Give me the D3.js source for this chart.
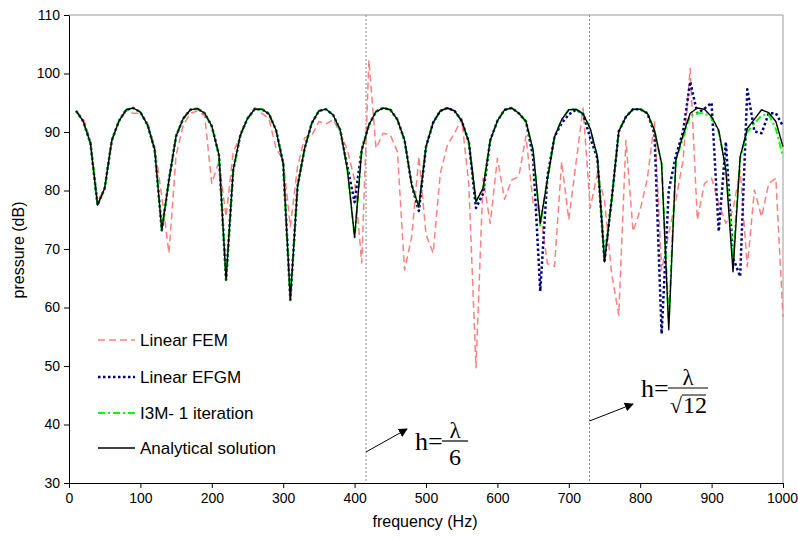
<!DOCTYPE html>
<html>
<head>
<meta charset="utf-8">
<script src="https://cdn.jsdelivr.net/npm/d3@7"></script>
<style>
  body { margin: 0; background: #fff; }
  svg text { font-family: Arial, "Liberation Sans", sans-serif; }
  .serif { font-family: "Times New Roman", "Liberation Serif", serif !important; }
</style>
</head>
<body>
<div id="chart-area"></div>
<script>
// pressure vs frequency, 4 series sampled every 10 Hz

const WIDTH = 798;
const HEIGHT = 540;

const freq = [10,20,30,40,50,60,70,80,90,100,
  110,120,130,140,150,160,170,180,190,200,
  210,220,230,240,250,260,270,280,290,300,
  310,320,330,340,350,360,370,380,390,400,
  410,420,430,440,450,460,470,480,490,500,
  510,520,530,540,550,560,570,580,590,600,
  610,620,630,640,650,660,670,680,690,700,
  710,720,730,740,750,760,770,780,790,800,
  810,820,830,840,850,860,870,880,890,900,
  910,920,930,940,950,960,970,980,990,1000];

const linearFEM = [93.6,92.3,88.6,78.0,80.5,88.5,91.8,93.6,93.2,93.2,
  91.5,87.5,79.0,69.3,86.0,91.2,93.2,93.6,92.8,81.2,
  85.0,75.5,86.6,89.2,92.3,94.2,93.2,92.3,87.2,85.2,
  73.8,84.0,89.0,89.4,91.8,91.4,92.1,89.8,86.9,81.8,
  67.6,102.3,87.2,89.8,89.5,86.6,66.4,72.1,85.8,72.5,
  69.3,82.9,87.8,89.8,92.3,81.0,49.7,82.1,74.4,85.5,
  78.5,81.8,82.4,89.3,77.8,76.5,67.5,67.0,84.9,75.0,
  84.6,94.1,77.0,82.9,78.4,65.8,58.7,88.6,73.0,76.7,
  82.0,91.8,66.4,72.7,78.4,85.2,100.9,75.0,81.2,82.1,
  77.8,74.4,76.7,83.5,67.0,80.1,75.5,81.2,82.1,58.4];

const linearEFGM = [93.6,91.8,88.1,77.5,80.4,88.6,91.9,93.8,94.1,93.4,
  91.2,87.0,73.2,81.8,89.3,92.3,93.8,94.0,93.2,91.0,
  86.1,64.7,83.5,89.5,92.3,93.9,93.9,93.1,90.3,84.6,
  61.3,80.6,87.2,91.5,93.6,93.9,92.9,90.3,84.0,78.0,
  87.0,91.2,93.5,94.1,93.8,92.1,88.6,80.9,76.5,87.5,
  91.6,93.6,94.1,93.6,91.9,88.3,77.0,79.5,88.6,91.9,
  93.8,94.1,93.2,91.8,85.8,62.8,82.4,89.2,91.5,93.0,
  93.8,93.1,89.0,85.5,68.0,78.4,90.1,92.6,93.9,93.9,
  93.2,89.8,55.5,80.0,86.0,90.0,98.6,93.2,94.0,95.0,
  73.0,88.3,68.5,65.3,97.3,90.1,89.8,93.2,93.2,91.0];

const i3m = [93.6,91.8,88.1,77.5,80.4,88.6,91.9,93.8,94.1,93.4,
  91.2,87.0,73.2,81.8,89.3,92.3,93.8,94.0,93.2,91.0,
  86.1,64.7,83.5,89.5,92.3,93.9,93.9,93.1,90.3,84.6,
  61.3,80.6,87.2,91.5,93.6,93.9,92.9,90.3,83.5,72.0,
  86.9,91.2,93.5,94.1,93.8,92.1,88.6,80.9,77.2,87.5,
  91.6,93.6,94.1,93.6,91.9,88.3,78.1,80.4,88.6,91.9,
  93.8,94.1,93.2,91.8,86.9,74.0,81.8,89.2,92.1,93.8,
  93.9,93.1,90.6,85.8,68.5,78.4,90.1,92.6,93.9,93.9,
  93.2,90.3,84.6,57.5,85.2,89.0,92.8,93.2,93.2,92.4,
  90.0,84.0,68.5,85.5,90.0,91.5,92.8,93.0,90.5,85.8];

const analytical = [93.6,91.8,88.1,77.5,80.4,88.6,91.9,93.8,94.1,93.4,
  91.2,87.0,73.2,81.8,89.3,92.3,93.8,94.0,93.2,91.0,
  86.1,64.7,83.5,89.5,92.3,93.9,93.9,93.1,90.3,84.6,
  61.3,80.6,87.2,91.5,93.6,93.9,92.9,90.3,83.5,72.0,
  86.9,91.2,93.5,94.1,93.8,92.1,88.6,80.9,77.2,87.5,
  91.6,93.6,94.1,93.6,91.9,88.3,78.1,80.4,88.6,91.9,
  93.8,94.1,93.2,91.8,86.9,74.4,81.8,89.2,92.1,93.8,
  93.9,93.1,90.6,85.8,67.8,78.4,90.1,92.6,93.9,93.9,
  93.2,90.3,84.6,56.2,85.2,89.5,93.2,94.1,93.9,92.6,
  90.3,83.5,66.1,85.8,90.6,92.2,93.8,93.3,91.8,87.5];

const xTicks = [0,100,200,300,400,500,600,700,800,900,1000];
const yTicks = [30,40,50,60,70,80,90,100,110];
const markerFreqs = [416, 729];   // h = lambda/6 and h = lambda/sqrt(12)

const series = [
  {name: "Linear FEM", values: linearFEM, color: "#ff8080", width: 1.5, dash: "7,4"},
  {name: "Linear EFGM", values: linearEFGM, color: "#000080", width: 2.5, dash: "2.5,2.5"},
  {name: "I3M- 1 iteration", values: i3m, color: "#00ff00", width: 2, dash: "7,3,2,3"},
  {name: "Analytical solution", values: analytical, color: "#000000", width: 1.4, dash: null}
];

let svg = d3.select("#chart-area").append("svg")
    .attr("width", WIDTH)
    .attr("height", HEIGHT);

let x = d3.scaleLinear().domain([0, 1000]).range([69, 783]);
let y = d3.scaleLinear().domain([30, 110]).range([483, 15]);

// plot frame (grey top + right)
svg.append("path")
    .attr("d", `M${x(0)},${y(110)}H${x(1000)}V${y(30)}`)
    .attr("fill", "none")
    .attr("stroke", "#999")
    .attr("stroke-width", 1);

// dotted verticals
svg.selectAll(".marker")
    .data(markerFreqs)
    .enter().append("line")
    .attr("class", "marker")
    .attr("x1", d => x(d)).attr("x2", d => x(d))
    .attr("y1", y(110)).attr("y2", y(30))
    .attr("stroke", "#888")
    .attr("stroke-width", 1)
    .attr("stroke-dasharray", "2,2");

// lines
let line = d3.line()
    .x((d, i) => x(freq[i]))
    .y(d => y(d));

series.forEach(s => {
    svg.append("path")
        .datum(s.values)
        .attr("d", line)
        .attr("fill", "none")
        .attr("stroke", s.color)
        .attr("stroke-width", s.width)
        .attr("stroke-dasharray", s.dash)
        .attr("stroke-linejoin", "round");
});

// axes
let yAxis = svg.append("g")
    .attr("transform", `translate(${x(0)},0)`)
    .call(d3.axisLeft(y).tickValues(yTicks).tickSize(5).tickSizeOuter(0).tickPadding(4));
let xAxis = svg.append("g")
    .attr("transform", `translate(0,${y(30)})`)
    .call(d3.axisBottom(x).tickValues(xTicks).tickFormat(d3.format("d"))
        .tickSize(5).tickSizeOuter(0).tickPadding(5));

[xAxis, yAxis].forEach(a => {
    a.selectAll("text").attr("font-size", "14px").attr("fill", "#000")
        .attr("font-family", "Arial, 'Liberation Sans', sans-serif");
    a.select(".domain").attr("stroke", "#000");
    a.selectAll(".tick line").attr("stroke", "#000");
});
// keep the last x label inside the page
xAxis.selectAll(".tick text").filter(d => d === 1000).attr("dx", "-1");

svg.append("text")
    .attr("transform", "translate(24,250) rotate(-90)")
    .attr("text-anchor", "middle")
    .attr("font-size", "16px")
    .text("pressure (dB)");

svg.append("text")
    .attr("x", 425).attr("y", 527)
    .attr("text-anchor", "middle")
    .attr("font-size", "16px")
    .text("frequency (Hz)");

// legend
let legendY = [340, 377, 413, 448];
let legend = svg.selectAll(".legend")
    .data(series)
    .enter().append("g")
    .attr("class", "legend")
    .attr("transform", (s, i) => `translate(98,${legendY[i]})`);

legend.append("line")
    .attr("x1", 0).attr("x2", 37)
    .attr("stroke", s => s.color)
    .attr("stroke-width", s => s.width)
    .attr("stroke-dasharray", s => s.dash);

legend.append("text")
    .attr("x", 42).attr("y", 6)
    .attr("font-size", "17px")
    .text(s => s.name);

// annotations: arrows + formulas
svg.append("defs").append("marker")
    .attr("id", "arrow")
    .attr("viewBox", "0 0 10 10")
    .attr("refX", 9).attr("refY", 5)
    .attr("markerWidth", 9).attr("markerHeight", 9)
    .attr("markerUnits", "userSpaceOnUse")
    .attr("orient", "auto")
    .append("path")
    .attr("d", "M0,0L10,5L0,10Z")
    .attr("fill", "#000");

const arrows = [
    {x1: x(markerFreqs[0]), y1: 452, x2: 407, y2: 429},
    {x1: x(markerFreqs[1]), y1: 421, x2: 633, y2: 404}
];
svg.selectAll(".arrow")
    .data(arrows)
    .enter().append("line")
    .attr("x1", d => d.x1).attr("y1", d => d.y1)
    .attr("x2", d => d.x2).attr("y2", d => d.y2)
    .attr("stroke", "#000").attr("stroke-width", 1)
    .attr("marker-end", "url(#arrow)");

function formula(hx, barY, barW, den, sqrt) {
    let g = svg.append("g").attr("class", "serif");
    g.append("text").attr("class", "serif")
        .attr("x", hx).attr("y", barY + 9)
        .attr("font-size", "26px")
        .text("h=");
    let bx = hx + 27;
    g.append("line")
        .attr("x1", bx).attr("x2", bx + barW)
        .attr("y1", barY).attr("y2", barY)
        .attr("stroke", "#000").attr("stroke-width", 1.2);
    g.append("text").attr("class", "serif")
        .attr("x", bx + barW / 2).attr("y", barY - 3)
        .attr("text-anchor", "middle")
        .attr("font-size", "23px")
        .text("λ");
    if (sqrt) {
        g.append("text").attr("class", "serif")
            .attr("x", bx + 2).attr("y", barY + 25)
            .attr("font-size", "22px")
            .text("√");
        g.append("line")
            .attr("x1", bx + 14).attr("x2", bx + barW - 2)
            .attr("y1", barY + 7).attr("y2", barY + 7)
            .attr("stroke", "#000").attr("stroke-width", 1);
        g.append("text").attr("class", "serif")
            .attr("x", bx + 15).attr("y", barY + 25)
            .attr("font-size", "24px")
            .text(den);
    } else {
        g.append("text").attr("class", "serif")
            .attr("x", bx + barW / 2).attr("y", barY + 24)
            .attr("text-anchor", "middle")
            .attr("font-size", "24px")
            .text(den);
    }
}

formula(415, 441, 26, "6", false);
formula(641, 388, 40, "12", true);
</script>
</body>
</html>
